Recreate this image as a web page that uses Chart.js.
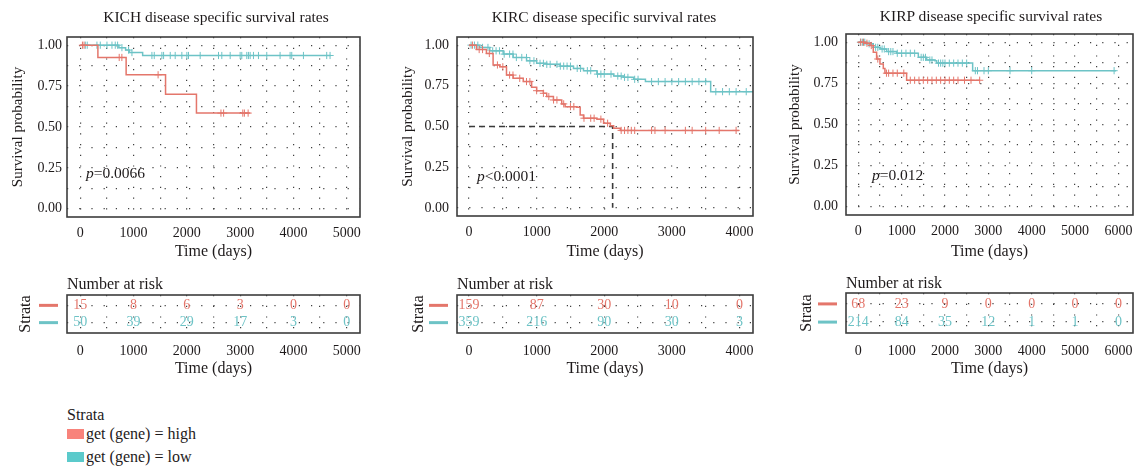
<!DOCTYPE html>
<html><head><meta charset="utf-8">
<script src="https://cdn.jsdelivr.net/npm/chart.js@4.4.1/dist/chart.umd.min.js"></script>
<style>
body{margin:0;width:1143px;height:469px;background:#fff;position:relative;overflow:hidden;font-family:"Liberation Serif","DejaVu Serif",serif;color:#1e1a1b}
.box{position:absolute}
.t{position:absolute;white-space:nowrap;font-size:14px;line-height:1;color:#1e1a1b}
.sw{position:absolute;width:17px;height:10px}
</style></head><body>

<div class="box" style="left:0;top:0;width:375px;height:265px"><canvas id="s1" width="375" height="265"></canvas></div>
<div class="box" style="left:390px;top:0;width:375px;height:265px"><canvas id="s2" width="375" height="265"></canvas></div>
<div class="box" style="left:780px;top:0;width:363px;height:265px"><canvas id="s3" width="363" height="265"></canvas></div>
<div class="box" style="left:0;top:275px;width:375px;height:105px"><canvas id="r1" width="375" height="105"></canvas></div>
<div class="box" style="left:390px;top:275px;width:375px;height:105px"><canvas id="r2" width="375" height="105"></canvas></div>
<div class="box" style="left:780px;top:275px;width:363px;height:105px"><canvas id="r3" width="363" height="105"></canvas></div>

<div class="t" style="left:216px;top:9px;transform:translateX(-50%);font-size:15.5px">KICH disease specific survival rates</div>
<div class="t" style="left:604px;top:9px;transform:translateX(-50%);font-size:15.5px">KIRC disease specific survival rates</div>
<div class="t" style="left:991px;top:8px;transform:translateX(-50%);font-size:15.5px">KIRP disease specific survival rates</div>

<div class="t" style="left:86px;top:165px;font-size:15.5px"><i>p</i>=0.0066</div>
<div class="t" style="left:477px;top:168px;font-size:15.5px"><i>p</i>&lt;0.0001</div>
<div class="t" style="left:872px;top:167px;font-size:15.5px"><i>p</i>=0.012</div>

<div class="t" style="left:67px;top:276px;font-size:16px">Number at risk</div>
<div class="t" style="left:457px;top:276px;font-size:16px">Number at risk</div>
<div class="t" style="left:846px;top:275px;font-size:16px">Number at risk</div>

<div class="t" style="left:67px;top:407px;font-size:16px">Strata</div>
<div class="sw" style="left:67px;top:429px;background:#F8837B"></div>
<div class="t" style="left:86px;top:426px;font-size:16px">get (gene) = high</div>
<div class="sw" style="left:67px;top:452px;background:#5BCACB"></div>
<div class="t" style="left:86px;top:449px;font-size:16px">get (gene) = low</div>

<script>
// ---------- data ----------
const RED = '#E4766B', CYAN = '#6DC3C6';
const strata = ['get (gene) = high', 'get (gene) = low'];

// KICH
const kichHighTimes = [0, 330, 860, 1600, 2180, 3190];
const kichHighSurv  = [1.00, 0.925, 0.819, 0.70, 0.585, 0.585];
const kichHighCensor = [40, 70, 730, 780, 1460, 2640, 2690, 3050, 3080, 3150];
const kichLowTimes = [0, 724, 850, 920, 1170, 4700];
const kichLowSurv  = [1.00, 0.985, 0.97, 0.955, 0.937, 0.937];
const kichLowCensor = [94, 130, 312, 375, 500, 594, 656, 700, 781, 906, 969, 1344, 1388, 1531, 1563, 1688, 1781, 1906, 2000, 2031, 2250, 2594, 2656, 2813, 3000, 3031, 3125, 3156, 3188, 3250, 3344, 3500, 3750, 3938, 3969, 4188, 4625, 4688];

// KIRC
const kircHighTimes = [0, 109, 257, 356, 455, 554, 653, 802, 926, 1000, 1099, 1149, 1248, 1371, 1421, 1594, 1644, 1693, 1891, 1990, 2089, 2139, 2238, 3995];
const kircHighSurv  = [1.00, 0.973, 0.949, 0.878, 0.867, 0.816, 0.796, 0.776, 0.741, 0.720, 0.704, 0.684, 0.663, 0.639, 0.622, 0.618, 0.571, 0.551, 0.545, 0.520, 0.504, 0.490, 0.476, 0.476];
const kircHighCensor = [50, 150, 200, 300, 420, 500, 600, 650, 750, 850, 900, 1000, 1100, 1180, 1250, 1300, 1400, 1500, 1550, 1700, 1800, 1850, 1950, 2050, 2250, 2300, 2350, 2400, 2450, 2700, 2750, 2900, 3200, 3300, 3500, 3700, 3950];
const kircLowTimes = [0, 158, 307, 505, 653, 851, 1000, 1149, 1347, 1545, 1693, 1891, 2139, 2287, 2436, 2609, 3574, 4277];
const kircLowSurv  = [1.00, 0.986, 0.965, 0.945, 0.924, 0.904, 0.888, 0.882, 0.871, 0.857, 0.843, 0.822, 0.810, 0.802, 0.790, 0.776, 0.714, 0.714];
const kircLowCensor = [30, 80, 130, 200, 280, 350, 400, 450, 520, 600, 650, 700, 780, 850, 900, 960, 1050, 1100, 1150, 1200, 1300, 1350, 1400, 1450, 1500, 1600, 1650, 1750, 1800, 1900, 1950, 2000, 2100, 2200, 2250, 2300, 2350, 2450, 2500, 2700, 2800, 2900, 3000, 3100, 3200, 3300, 3400, 3500, 3650, 3750, 3850, 3950, 4100];
const kircMedian = [[0, 0.5], [2124, 0.5], [2124, 0]];

// KIRP
const kirpHighTimes = [0, 154, 269, 346, 423, 500, 577, 615, 1115, 2808];
const kirpHighSurv  = [1.00, 0.994, 0.980, 0.939, 0.898, 0.867, 0.841, 0.812, 0.769, 0.769];
const kirpHighCensor = [60, 120, 200, 300, 450, 650, 700, 800, 900, 1050, 1200, 1300, 1400, 1500, 1600, 1700, 1800, 1900, 2000, 2100, 2200, 2300, 2450, 2600, 2800];
const kirpLowTimes = [0, 192, 346, 500, 654, 885, 1385, 1577, 1769, 1808, 2638, 5946];
const kirpLowSurv  = [1.00, 0.990, 0.969, 0.959, 0.943, 0.933, 0.908, 0.892, 0.888, 0.873, 0.827, 0.827];
const kirpLowCensor = [50, 100, 150, 250, 400, 450, 550, 600, 700, 750, 800, 900, 1000, 1100, 1200, 1300, 1450, 1500, 1550, 1650, 1700, 1850, 1900, 1950, 2000, 2100, 2200, 2300, 2400, 2500, 2700, 2750, 2900, 3000, 3500, 4000, 5900];

// risk tables
const kichRiskTimes = [0, 1000, 2000, 3000, 4000, 5000];
const kichRiskHigh = [15, 8, 6, 3, 0, 0];
const kichRiskLow  = [50, 39, 29, 17, 3, 0];
const kircRiskTimes = [0, 1000, 2000, 3000, 4000];
const kircRiskHigh = [159, 87, 30, 10, 0];
const kircRiskLow  = [359, 216, 90, 30, 3];
const kirpRiskTimes = [0, 1000, 2000, 3000, 4000, 5000, 6000];
const kirpRiskHigh = [68, 23, 9, 0, 0, 0, 0];
const kirpRiskLow  = [214, 84, 35, 12, 1, 1, 0];

// axis ticks
const surv_yTicks = [0, 0.125, 0.25, 0.375, 0.5, 0.625, 0.75, 0.875, 1];

// ---------- helpers ----------
const TXT = '#1e1a1b';
const FONT = {family: '"Liberation Serif","DejaVu Serif",serif', size: 14};
const GRID = 'rgba(30,30,30,0.85)';
function range(a, b, s) { const r = []; for (let v = a; v <= b + 1e-9; v += s) r.push(v); return r; }
function km(times, surv, t) { let v = surv[0]; for (let i = 0; i < times.length; i++) if (times[i] <= t) v = surv[i]; return v; }

const boxPlugin = {
  id: 'box',
  afterDraw(chart) {
    const a = chart.chartArea, c = chart.ctx;
    c.save(); c.strokeStyle = '#3d3d3d'; c.lineWidth = 1.6;
    c.strokeRect(a.left, a.top, a.right - a.left, a.bottom - a.top); c.restore();
  }
};
const riskTextPlugin = {
  id: 'riskText',
  afterDatasetsDraw(chart) {
    const c = chart.ctx, xs = chart.scales.x, ys = chart.scales.y, a = chart.chartArea;
    c.save();
    chart.data.datasets.forEach(ds => {
      c.font = '14px "Liberation Serif","DejaVu Serif",serif';
      c.fillStyle = ds.borderColor; c.textAlign = 'center'; c.textBaseline = 'middle';
      ds.data.forEach((p, i) => c.fillText(String(ds.counts[i]), xs.getPixelForValue(p.x), ys.getPixelForValue(p.y)));
      const y = ys.getPixelForValue(ds.data[0].y);
      c.strokeStyle = ds.borderColor; c.lineWidth = 3;
      c.beginPath(); c.moveTo(a.left - 28, y); c.lineTo(a.left - 9, y); c.stroke();
    });
    c.restore();
  }
};

function xScale(p, h, titlePad, tickPad) {
  return {
    type: 'linear', min: p.xmin, max: p.xmax,
    afterBuildTicks: ax => { ax.ticks = range(0, p.xlast, 500).map(v => ({value: v})); },
    afterFit: ax => { ax.height = h; },
    ticks: {autoSkip: false, maxRotation: 0, padding: tickPad, color: TXT, font: FONT,
      callback: v => (v % 1000 === 0 ? String(v) : '')},
    grid: {color: GRID, lineWidth: 1.2, drawTicks: false},
    border: {display: false, dash: [1.2, 9.5]},
    title: {display: true, text: 'Time (days)', color: TXT, font: {...FONT, size: 16}, padding: {top: 0, bottom: titlePad}}
  };
}

function survChart(id, p) {
  const datasets = [];
  p.series.forEach(s => {
    datasets.push({data: s.times.map((t, i) => ({x: t, y: s.surv[i]})), showLine: true, stepped: 'before',
      borderColor: s.color, borderWidth: 1.5, pointRadius: 0, fill: false});
    datasets.push({data: s.censor.map(t => ({x: t, y: km(s.times, s.surv, t)})), showLine: false,
      pointStyle: 'cross', pointRadius: 3.6, borderColor: s.color, backgroundColor: s.color, borderWidth: 1});
  });
  if (p.median) datasets.push({data: p.median.map(d => ({x: d[0], y: d[1]})), showLine: true,
    borderColor: '#3a3a3a', borderWidth: 1.6, borderDash: [6, 4], pointRadius: 0, fill: false});
  new Chart(document.getElementById(id), {
    type: 'scatter',
    data: {datasets},
    options: {
      responsive: false, animation: false, devicePixelRatio: 1,
      layout: {padding: {left: 0, right: p.padR, top: p.padT, bottom: 0}},
      plugins: {legend: {display: false}, tooltip: {enabled: false}},
      scales: {
        x: xScale(p, p.xh, 3.4, 8),
        y: {
          type: 'linear', min: -0.05, max: 1.05,
          afterBuildTicks: ax => { ax.ticks = surv_yTicks.map(v => ({value: v})); },
          afterFit: ax => { ax.width = p.yw; },
          ticks: {autoSkip: false, padding: p.ypad, color: TXT, font: FONT,
            callback: v => (Math.abs(v * 4 - Math.round(v * 4)) < 1e-9 ? v.toFixed(2) : '')},
          grid: {color: GRID, lineWidth: 1.2, drawTicks: false},
          border: {display: false, dash: [1.2, 11]},
          title: {display: true, text: 'Survival probability', color: TXT, font: {...FONT, size: 15}, padding: {top: p.ytp, bottom: 0}}
        }
      }
    },
    plugins: [boxPlugin]
  });
}

function riskChart(id, p) {
  const mk = (counts, row, color) => ({label: '', data: p.times.map(t => ({x: t, y: row})), counts,
    showLine: false, pointRadius: 0, borderColor: color, backgroundColor: color});
  new Chart(document.getElementById(id), {
    type: 'scatter',
    data: {datasets: [mk(p.high, 2, RED), mk(p.low, 1, CYAN)]},
    options: {
      responsive: false, animation: false, devicePixelRatio: 1,
      layout: {padding: {left: 0, right: p.padR, top: p.padT, bottom: 0}},
      plugins: {legend: {display: false}, tooltip: {enabled: false}},
      scales: {
        x: xScale(p, 47, 1.4, 10),
        y: {
          type: 'linear', min: 0.4, max: 2.6,
          afterBuildTicks: ax => { ax.ticks = [{value: 1}, {value: 2}]; },
          afterFit: ax => { ax.width = p.yw; },
          ticks: {display: false},
          grid: {color: GRID, lineWidth: 1.2, drawTicks: false},
          border: {display: false, dash: [1.2, 11]},
          title: {display: true, text: 'Strata', color: TXT, font: {...FONT, size: 16}, padding: {top: p.ytp, bottom: 0}}
        }
      }
    },
    plugins: [riskTextPlugin, boxPlugin]
  });
}

survChart('s1', {xmin: -250, xmax: 5250, xlast: 5000, padR: 15, padT: 37, yw: 67, xh: 48, ypad: 5, ytp: 9,
  series: [
    {times: kichHighTimes, surv: kichHighSurv, censor: kichHighCensor, color: RED},
    {times: kichLowTimes, surv: kichLowSurv, censor: kichLowCensor, color: CYAN}]});
survChart('s2', {xmin: -178, xmax: 4200, xlast: 4000, padR: 12, padT: 37, yw: 67, xh: 49, ypad: 8, ytp: 9, median: kircMedian,
  series: [
    {times: kircHighTimes, surv: kircHighSurv, censor: kircHighCensor, color: RED},
    {times: kircLowTimes, surv: kircLowSurv, censor: kircLowCensor, color: CYAN}]});
survChart('s3', {xmin: -283, xmax: 6336, xlast: 6000, padR: 10, padT: 34, yw: 66, xh: 50, ypad: 8, ytp: 6,
  series: [
    {times: kirpHighTimes, surv: kirpHighSurv, censor: kirpHighCensor, color: RED},
    {times: kirpLowTimes, surv: kirpLowSurv, censor: kirpLowCensor, color: CYAN}]});

riskChart('r1', {xmin: -250, xmax: 5250, xlast: 5000, padR: 15, padT: 20, yw: 67, ytp: 16.4,
  times: kichRiskTimes, high: kichRiskHigh, low: kichRiskLow});
riskChart('r2', {xmin: -178, xmax: 4200, xlast: 4000, padR: 12, padT: 20, yw: 67, ytp: 18.9,
  times: kircRiskTimes, high: kircRiskHigh, low: kircRiskLow});
riskChart('r3', {xmin: -283, xmax: 6336, xlast: 6000, padR: 10, padT: 18, yw: 66, ytp: 16.9,
  times: kirpRiskTimes, high: kirpRiskHigh, low: kirpRiskLow});
</script>
</body></html>
